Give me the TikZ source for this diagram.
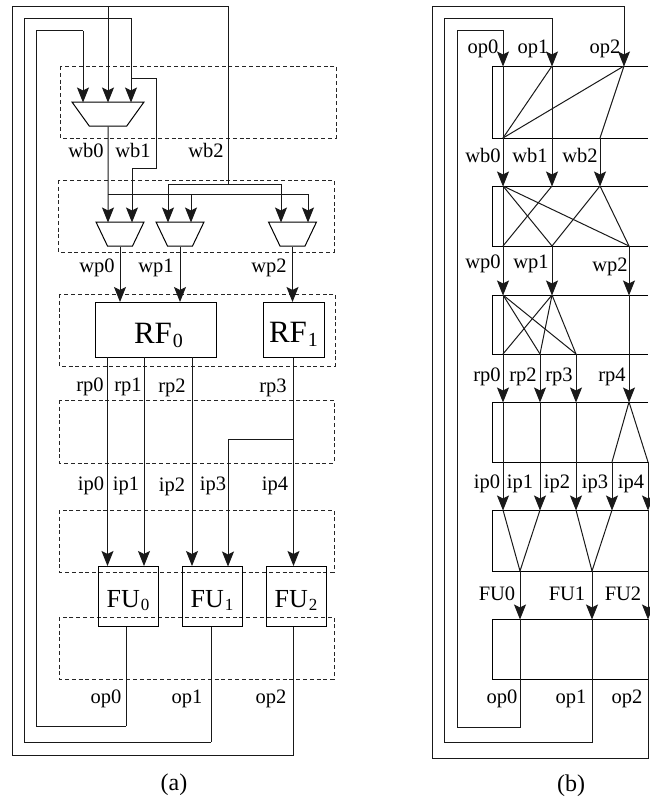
\documentclass[tikz,border=0pt]{standalone}
\usepackage{fontspec}
\setmainfont{Liberation Serif}
\usetikzlibrary{arrows.meta, shapes.geometric}
\newcommand{\unitname}[4]{{\fontsize{#3}{#3}\selectfont #1\hspace{1pt}\raisebox{-0.13em}{\fontsize{#4}{#4}\selectfont #2}}}
\begin{document}
\begin{tikzpicture}[
    x=1pt, y=-1pt,
    wire/.style={line width=1pt, black!90},
    flow/.style={wire, -{Stealth[length=15pt, width=12pt, inset=3pt]}, shorten >=-0.5pt},
    zone/.style={line width=0.9pt, black!85, dash pattern=on 4pt off 2.8pt},
    band/.style={line width=0.9pt, black},
    lmux/.style={draw, line width=1pt, trapezium, trapezium angle=63.4, shape border rotate=180,
                 trapezium stretches=true, inner sep=0pt, minimum height=24pt},
    lunit/.style={draw, line width=1pt, inner sep=0pt, align=center, text height=#1, text depth=2pt},
    lbl/.style={anchor=base, inner sep=0pt, font=\fontsize{20.5}{24}\selectfont},
    lcap/.style={inner sep=0pt, font=\fontsize{24}{28}\selectfont}
  ]
    \useasboundingbox (0,0) rectangle (649,800);

    % ---- (a) ----
    \draw[zone] (60,66)  rectangle (336,138);
    \draw[zone] (58,180) rectangle (334,252);
    \draw[zone] (59,294) rectangle (335,366);
    \draw[zone] (59,400) rectangle (334,463);
    \draw[zone] (59,510) rectangle (334,572);
    \draw[zone] (59,617) rectangle (334,679);

    \node[lmux, minimum width=72pt] (wbmux)  at (108,114)   {\phantom{x}};
    \node[lmux, minimum width=48pt] (wpmuxa) at (120,234)   {\phantom{x}};
    \node[lmux, minimum width=48pt] (wpmuxb) at (180,234)   {\phantom{x}};
    \node[lmux, minimum width=48pt] (wpmuxc) at (292.5,234) {\phantom{x}};

    \node[lunit=29pt, minimum width=121pt, minimum height=55pt] (rfa) at (155.5,329.5) {\hspace{6pt}\unitname{RF}{0}{31}{20}};
    \node[lunit=28pt, minimum width=61pt,  minimum height=55pt] (rfb) at (293.5,329.5) {\unitname{RF}{1}{31}{20}};
    \node[lunit=24pt, minimum width=60pt,  minimum height=60pt] (fua) at (128,596) {\unitname{FU}{0}{26}{17}};
    \node[lunit=24pt, minimum width=60pt,  minimum height=60pt] (fub) at (212,596) {\unitname{FU}{1}{26}{17}};
    \node[lunit=24pt, minimum width=60pt,  minimum height=60pt] (fuc) at (296,596) {\unitname{FU}{2}{26}{17}};

    % feedback rails
    \coordinate (railat) at (228,6.5);
    \coordinate (railbt) at (131,19);
    \coordinate (railct) at (83,31);
    \coordinate (railab) at (293.5,755);
    \coordinate (railbb) at (211,742);
    \coordinate (railcb) at (126,726);
    \coordinate (wba) at (83,102);
    \coordinate (wbb) at (108,102);
    \coordinate (wbc) at (131,102);
    \coordinate (tapb) at (131,78);
    \coordinate (tapa) at (108,6.5);
    \coordinate (busa) at (108,194);
    \coordinate (busb) at (228,184);
    \coordinate (wpaa) at (108,222);
    \coordinate (wpab) at (132,222);
    \coordinate (wpba) at (168,222);
    \coordinate (wpbb) at (191,222);
    \coordinate (wpca) at (281,222);
    \coordinate (wpcb) at (308,222);
    \coordinate (rpa) at (107.5,357);
    \coordinate (rpb) at (144,357);
    \coordinate (rpc) at (192,357);
    \coordinate (ipa) at (228,566);
    \coordinate (splt) at (293.5,439);

    \draw[wire] (railab) -| (12,6.5) -- (railat) -- (busb);
    \draw[wire] (railbb) -| (24,19) -- (railbt) -- (tapb);
    \draw[wire] (railcb) -| (36,31) -- (railct);
    \draw[wire] (fua.south -| railcb) -- (railcb);
    \draw[wire] (fub.south -| railbb) -- (railbb);
    \draw[wire] (fuc.south -| railab) -- (railab);

    \draw[flow] (railct) -- (wba);
    \draw[flow] (tapa) -- (wbb);
    \draw[flow] (tapb) -- (wbc);
    \draw[wire] (tapb) -- (156,78) -- (156,168) -- (132,168) -- (132,200);
    \draw[flow] (132,200) -- (wpab);
    \draw[flow] (wbmux.south) -- (wpaa);

    \draw[wire] (busa) -- (308,194);
    \draw[flow] (308,194) -- (wpcb);
    \draw[flow] (191,194) -- (wpbb);
    \draw[wire] (168,190) -- (168,184) -- (281,184) -- (281,190);
    \draw[flow] (168,190) -- (wpba);
    \draw[flow] (281,190) -- (wpca);

    \draw[flow] (wpmuxa.south) -- (wpmuxa.south |- rfa.north);
    \draw[flow] (wpmuxb.south) -- (wpmuxb.south |- rfa.north);
    \draw[flow] (wpmuxc.south) -- (wpmuxc.south |- rfb.north);

    \draw[flow] (rpa) -- (rpa |- fua.north);
    \draw[flow] (rpb) -- (rpb |- fua.north);
    \draw[flow] (rpc) -- (rpc |- fub.north);
    \draw[flow] (rfb.south) -- (rfb.south |- fuc.north);
    \draw[wire] (splt) -- (228,439) -- (228,500);
    \draw[flow] (228,500) -- (ipa);

    \node[lbl] (lwba) at (86,157)  {wb0};
    \node[lbl] (lwbb) at (133,157) {wb1};
    \node[lbl] (lwbc) at (206,157) {wb2};
    \node[lbl] (lwpa) at (97,272)  {wp0};
    \node[lbl] (lwpb) at (156,272) {wp1};
    \node[lbl] (lwpc) at (269,272) {wp2};
    \node[lbl] (lrpa) at (90,391)  {rp0};
    \node[lbl] (lrpb) at (128,391) {rp1};
    \node[lbl] (lrpc) at (172,392) {rp2};
    \node[lbl] (lrpd) at (273,392) {rp3};
    \node[lbl] (lipa) at (91,490)  {ip0};
    \node[lbl] (lipb) at (126,490) {ip1};
    \node[lbl] (lipc) at (172,491) {ip2};
    \node[lbl] (lipd) at (213,490) {ip3};
    \node[lbl] (lipe) at (275,490) {ip4};
    \node[lbl] (lopa) at (106,703) {op0};
    \node[lbl] (lopb) at (187,703) {op1};
    \node[lbl] (lopc) at (271,703) {op2};
    \node[lcap] (capa) at (174,785) {(a)};

    % ---- (b) ----
    \draw[band] (648,66)  -| (492,138) -- (648,138);
    \draw[band] (648,186) -| (492,246) -- (648,246);
    \draw[band] (648,295) -| (492,354) -- (648,354);
    \draw[band] (648,402) -| (492,462) -- (648,462);
    \draw[band] (648,510) -| (492,571) -- (648,571);
    \draw[band] (648,619) -| (492,679) -- (648,679);

    \coordinate (opa) at (503,66);
    \coordinate (opb) at (552,66);
    \coordinate (opc) at (624,66);
    \coordinate (wboa) at (503,138);
    \coordinate (wboc) at (600,138);
    \coordinate (wbia) at (503,186);
    \coordinate (wbib) at (552,186);
    \coordinate (wbic) at (600,186);
    \coordinate (wpoa) at (503,246);
    \coordinate (wpob) at (552,246);
    \coordinate (wpoc) at (629,246);
    \coordinate (wpia) at (503,295);
    \coordinate (wpib) at (552,295);
    \coordinate (wpic) at (629,295);
    \coordinate (rpoa) at (503,354);
    \coordinate (rpob) at (540,354);
    \coordinate (rpoc) at (576,354);
    \coordinate (rpia) at (503,402);
    \coordinate (rpib) at (540,402);
    \coordinate (rpic) at (576,402);
    \coordinate (rpid) at (629,402);
    \coordinate (ipod) at (612,462);
    \coordinate (ipoe) at (648,462);
    \coordinate (ipia) at (503,510);
    \coordinate (ipib) at (540,510);
    \coordinate (ipic) at (576,510);
    \coordinate (ipid) at (612,510);
    \coordinate (ipie) at (648,510);
    \coordinate (fuoa) at (520,571);
    \coordinate (fuob) at (592,571);
    \coordinate (fuoc) at (648,571);
    \coordinate (fuia) at (520,619);
    \coordinate (fuib) at (592,619);
    \coordinate (fuic) at (648,619);
    \coordinate (retc) at (520,727);
    \coordinate (retb) at (592,742);
    \coordinate (reta) at (648,758);

    \draw[flow] (fuia) -- (retc) -- (457,727) -- (457,31) -- (503,31) -- (opa);
    \draw[flow] (fuib) -- (retb) -- (444,742) -- (444,19) -- (552,19) -- (opb);
    \draw[flow] (fuic) -- (reta) -- (432,758) -- (432,6.5) -- (624,6.5) -- (opc);

    \draw[wire] (opb) -- (wboa);
    \draw[wire] (opc) -- (wboa);
    \draw[wire] (opc) -- (wboc);
    \draw[flow] (opa) -- (wbia);
    \draw[flow] (opb) -- (wbib);
    \draw[flow] (wboc) -- (wbic);

    \draw[wire] (wbia) -- (wpob);
    \draw[wire] (wbia) -- (wpoc);
    \draw[wire] (wbib) -- (wpoa);
    \draw[wire] (wbic) -- (wpob);
    \draw[wire] (wbic) -- (wpoc);
    \draw[flow] (wbia) -- (wpia);
    \draw[flow] (wpob) -- (wpib);
    \draw[flow] (wpoc) -- (wpic);

    \draw[wire] (wpia) -- (rpob);
    \draw[wire] (wpia) -- (rpoc);
    \draw[wire] (wpib) -- (rpoa);
    \draw[wire] (wpib) -- (rpob);
    \draw[wire] (wpib) -- (rpoc);
    \draw[flow] (wpia) -- (rpia);
    \draw[flow] (rpob) -- (rpib);
    \draw[flow] (rpoc) -- (rpic);
    \draw[flow] (wpic) -- (rpid);

    \draw[wire] (rpid) -- (ipod);
    \draw[wire] (rpid) -- (ipoe);
    \draw[flow] (rpia) -- (ipia);
    \draw[flow] (rpib) -- (ipib);
    \draw[flow] (rpic) -- (ipic);
    \draw[flow] (ipod) -- (ipid);
    \draw[flow] (ipoe) -- (ipie);

    \draw[wire] (ipia) -- (fuoa);
    \draw[wire] (ipib) -- (fuoa);
    \draw[wire] (ipic) -- (fuob);
    \draw[wire] (ipid) -- (fuob);
    \draw[wire] (ipie) -- (fuoc);
    \draw[flow] (fuoa) -- (fuia);
    \draw[flow] (fuob) -- (fuib);
    \draw[flow] (fuoc) -- (fuic);

    \node[lbl] (mopa) at (483,53)  {op0};
    \node[lbl] (mopb) at (533,53)  {op1};
    \node[lbl] (mopc) at (605,53)  {op2};
    \node[lbl] (mwba) at (483,162) {wb0};
    \node[lbl] (mwbb) at (530,162) {wb1};
    \node[lbl] (mwbc) at (580,162) {wb2};
    \node[lbl] (mwpa) at (483,268) {wp0};
    \node[lbl] (mwpb) at (531,268) {wp1};
    \node[lbl] (mwpc) at (610,271) {wp2};
    \node[lbl] (mrpa) at (487,381) {rp0};
    \node[lbl] (mrpb) at (523,381) {rp2};
    \node[lbl] (mrpc) at (559,381) {rp3};
    \node[lbl] (mrpd) at (612,381) {rp4};
    \node[lbl] (mipa) at (487,488) {ip0};
    \node[lbl] (mipb) at (520,488) {ip1};
    \node[lbl] (mipc) at (557,488) {ip2};
    \node[lbl] (mipd) at (595,488) {ip3};
    \node[lbl] (mipe) at (631,488) {ip4};
    \node[lbl] (mfua) at (497,600) {FU0};
    \node[lbl] (mfub) at (567,600) {FU1};
    \node[lbl] (mfuc) at (623,600) {FU2};
    \node[lbl] (mopd) at (502,703) {op0};
    \node[lbl] (mope) at (571,703) {op1};
    \node[lbl] (mopf) at (627,703) {op2};
    \node[lcap] (capb) at (571,786) {(b)};
\end{tikzpicture}
\end{document}
